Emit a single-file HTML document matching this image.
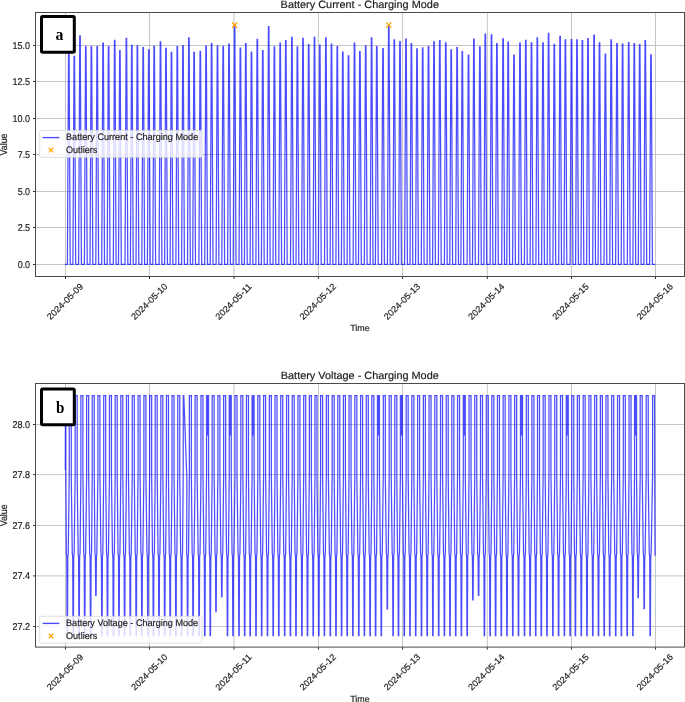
<!DOCTYPE html>
<html><head><meta charset="utf-8"><style>
html,body{margin:0;padding:0;background:#fff;width:685px;height:702px;overflow:hidden}
svg{display:block;will-change:transform}
.t{font-family:"Liberation Sans",sans-serif;font-size:8.9px;fill:#1c1c1c;stroke:#1c1c1c;stroke-width:0.18px;text-rendering:geometricPrecision}
.s{font-family:"Liberation Serif",serif;font-weight:bold;font-size:17.5px;fill:#000}
</style></head><body>
<svg width="685" height="702" viewBox="0 0 685 702">
<rect width="685" height="702" fill="#fff"/>
<line x1="65.5" y1="12.5" x2="65.5" y2="276.5" stroke="#c6c6c6" stroke-width="1"/>
<line x1="149.5" y1="12.5" x2="149.5" y2="276.5" stroke="#c6c6c6" stroke-width="1"/>
<line x1="234" y1="12.5" x2="234" y2="276.5" stroke="#c6c6c6" stroke-width="1"/>
<line x1="318.4" y1="12.5" x2="318.4" y2="276.5" stroke="#c6c6c6" stroke-width="1"/>
<line x1="402.6" y1="12.5" x2="402.6" y2="276.5" stroke="#c6c6c6" stroke-width="1"/>
<line x1="487.3" y1="12.5" x2="487.3" y2="276.5" stroke="#c6c6c6" stroke-width="1"/>
<line x1="571.5" y1="12.5" x2="571.5" y2="276.5" stroke="#c6c6c6" stroke-width="1"/>
<line x1="655.5" y1="12.5" x2="655.5" y2="276.5" stroke="#c6c6c6" stroke-width="1"/>
<line x1="35.5" y1="264.5" x2="684.5" y2="264.5" stroke="#c6c6c6" stroke-width="1"/>
<line x1="35.5" y1="227.5" x2="684.5" y2="227.5" stroke="#c6c6c6" stroke-width="1"/>
<line x1="35.5" y1="191.5" x2="684.5" y2="191.5" stroke="#c6c6c6" stroke-width="1"/>
<line x1="35.5" y1="154.5" x2="684.5" y2="154.5" stroke="#c6c6c6" stroke-width="1"/>
<line x1="35.5" y1="118.5" x2="684.5" y2="118.5" stroke="#c6c6c6" stroke-width="1"/>
<line x1="35.5" y1="81.5" x2="684.5" y2="81.5" stroke="#c6c6c6" stroke-width="1"/>
<line x1="35.5" y1="45.5" x2="684.5" y2="45.5" stroke="#c6c6c6" stroke-width="1"/>
<path d="M64.8 264.4 L67.4 264.4 L68.55 46.6 L69.05 46.6 L70.2 264.4 L72.9 264.4 L74.05 56.4 L74.55 56.4 L75.7 264.4 L78.6 264.4 L79.75 35.9 L80.25 35.9 L81.4 264.4 L84.4 264.4 L85.55 46.6 L86.05 46.6 L87.2 264.4 L90 264.4 L91.15 46.6 L91.65 46.6 L92.8 264.4 L95.8 264.4 L96.95 46.6 L97.45 46.6 L98.6 264.4 L101.7 264.4 L102.85 43.2 L103.35 43.2 L104.5 264.4 L107.2 264.4 L108.35 46.6 L108.85 46.6 L110 264.4 L113.3 264.4 L114.45 40.3 L114.95 40.3 L116.1 264.4 L118.5 264.4 L119.65 50.5 L120.15 50.5 L121.3 264.4 L125 264.4 L126.15 38.4 L126.65 38.4 L127.8 264.4 L130.4 264.4 L131.55 45.4 L132.05 45.4 L133.2 264.4 L136 264.4 L137.15 45.9 L137.65 45.9 L138.8 264.4 L141.8 264.4 L142.95 47.6 L143.45 47.6 L144.6 264.4 L147.4 264.4 L148.55 49.8 L149.05 49.8 L150.2 264.4 L152.8 264.4 L153.95 46.4 L154.45 46.4 L155.6 264.4 L159.1 264.4 L160.25 41.8 L160.75 41.8 L161.9 264.4 L164.6 264.4 L165.75 48.3 L166.25 48.3 L167.4 264.4 L170.1 264.4 L171.25 52.4 L171.75 52.4 L172.9 264.4 L175.9 264.4 L177.05 46.6 L177.55 46.6 L178.7 264.4 L181.6 264.4 L182.75 45.7 L183.25 45.7 L184.4 264.4 L187.5 264.4 L188.65 37.8 L189.15 37.8 L190.3 264.4 L192.7 264.4 L193.85 52.4 L194.35 52.4 L195.5 264.4 L198.9 264.4 L200.05 51.3 L200.55 51.3 L201.7 264.4 L204.7 264.4 L205.85 46.1 L206.35 46.1 L207.5 264.4 L210.2 264.4 L211.35 43.7 L211.85 43.7 L213 264.4 L216.1 264.4 L217.25 45.9 L217.75 45.9 L218.9 264.4 L221.8 264.4 L222.95 46.4 L223.45 46.4 L224.6 264.4 L227.6 264.4 L228.75 44.2 L229.25 44.2 L230.4 264.4 L233.2 264.4 L234.35 25 L234.85 25 L236 264.4 L239 264.4 L240.15 48 L240.65 48 L241.8 264.4 L244.4 264.4 L245.55 43.7 L246.05 43.7 L247.2 264.4 L250.1 264.4 L251.25 52 L251.75 52 L252.9 264.4 L255.9 264.4 L257.05 39.3 L257.55 39.3 L258.7 264.4 L261.4 264.4 L262.55 50.5 L263.05 50.5 L264.2 264.4 L267.3 264.4 L268.45 26.7 L268.95 26.7 L270.1 264.4 L273 264.4 L274.15 46.9 L274.65 46.9 L275.8 264.4 L278.8 264.4 L279.95 43.2 L280.45 43.2 L281.6 264.4 L284.4 264.4 L285.55 40.6 L286.05 40.6 L287.2 264.4 L290.5 264.4 L291.65 37.4 L292.15 37.4 L293.3 264.4 L296 264.4 L297.15 46.9 L297.65 46.9 L298.8 264.4 L301.6 264.4 L302.75 38.4 L303.25 38.4 L304.4 264.4 L307.3 264.4 L308.45 44.7 L308.95 44.7 L310.1 264.4 L313.1 264.4 L314.25 37.4 L314.75 37.4 L315.9 264.4 L318.4 264.4 L319.55 45.1 L320.05 45.1 L321.2 264.4 L324.5 264.4 L325.65 37.8 L326.15 37.8 L327.3 264.4 L330.1 264.4 L331.25 44.2 L331.75 44.2 L332.9 264.4 L335.9 264.4 L337.05 46.6 L337.55 46.6 L338.7 264.4 L341.4 264.4 L342.55 52 L343.05 52 L344.2 264.4 L347.1 264.4 L348.25 55.9 L348.75 55.9 L349.9 264.4 L353.1 264.4 L354.25 43.2 L354.75 43.2 L355.9 264.4 L358.5 264.4 L359.65 51.6 L360.15 51.6 L361.3 264.4 L364.3 264.4 L365.45 45.9 L365.95 45.9 L367.1 264.4 L370.2 264.4 L371.35 37.8 L371.85 37.8 L373 264.4 L375.4 264.4 L376.55 46.6 L377.05 46.6 L378.2 264.4 L381.6 264.4 L382.75 48.6 L383.25 48.6 L384.4 264.4 L387.4 264.4 L388.55 25 L389.05 25 L390.2 264.4 L392.9 264.4 L394.05 39.9 L394.55 39.9 L395.7 264.4 L398.6 264.4 L399.75 41.5 L400.25 41.5 L401.4 264.4 L404.6 264.4 L405.75 39.1 L406.25 39.1 L407.4 264.4 L410 264.4 L411.15 43.7 L411.65 43.7 L412.8 264.4 L415.6 264.4 L416.75 48.8 L417.25 48.8 L418.4 264.4 L421.3 264.4 L422.45 47.9 L422.95 47.9 L424.1 264.4 L427.1 264.4 L428.25 46.6 L428.75 46.6 L429.9 264.4 L432.6 264.4 L433.75 41.8 L434.25 41.8 L435.4 264.4 L438.4 264.4 L439.55 40.7 L440.05 40.7 L441.2 264.4 L444.4 264.4 L445.55 42.8 L446.05 42.8 L447.2 264.4 L449.8 264.4 L450.95 49.8 L451.45 49.8 L452.6 264.4 L455.7 264.4 L456.85 47.6 L457.35 47.6 L458.5 264.4 L460.9 264.4 L462.05 51.7 L462.55 51.7 L463.7 264.4 L467.1 264.4 L468.25 55.2 L468.75 55.2 L469.9 264.4 L472.5 264.4 L473.65 39.1 L474.15 39.1 L475.3 264.4 L478.5 264.4 L479.65 46.9 L480.15 46.9 L481.3 264.4 L483.9 264.4 L485.05 34 L485.55 34 L486.7 264.4 L490.1 264.4 L491.25 34.8 L491.75 34.8 L492.9 264.4 L495.5 264.4 L496.65 43.5 L497.15 43.5 L498.3 264.4 L501.7 264.4 L502.85 38.8 L503.35 38.8 L504.5 264.4 L506.8 264.4 L507.95 42.2 L508.45 42.2 L509.6 264.4 L512.6 264.4 L513.75 55.2 L514.25 55.2 L515.4 264.4 L518.6 264.4 L519.75 43.2 L520.25 43.2 L521.4 264.4 L524.4 264.4 L525.55 40.3 L526.05 40.3 L527.2 264.4 L530.1 264.4 L531.25 42.8 L531.75 42.8 L532.9 264.4 L535.9 264.4 L537.05 37.8 L537.55 37.8 L538.7 264.4 L541.6 264.4 L542.75 42.8 L543.25 42.8 L544.4 264.4 L547.2 264.4 L548.35 33.4 L548.85 33.4 L550 264.4 L552.9 264.4 L554.05 44.4 L554.55 44.4 L555.7 264.4 L558.7 264.4 L559.85 36.4 L560.35 36.4 L561.5 264.4 L564 264.4 L565.15 39.9 L565.65 39.9 L566.8 264.4 L570.1 264.4 L571.25 39.6 L571.75 39.6 L572.9 264.4 L575.6 264.4 L576.75 39.9 L577.25 39.9 L578.4 264.4 L581 264.4 L582.15 40.6 L582.65 40.6 L583.8 264.4 L586.6 264.4 L587.75 38.6 L588.25 38.6 L589.4 264.4 L592.7 264.4 L593.85 35.2 L594.35 35.2 L595.5 264.4 L598.1 264.4 L599.25 42.9 L599.75 42.9 L600.9 264.4 L604 264.4 L605.15 54.2 L605.65 54.2 L606.8 264.4 L609.8 264.4 L610.95 39.9 L611.45 39.9 L612.6 264.4 L615.6 264.4 L616.75 43.7 L617.25 43.7 L618.4 264.4 L621.2 264.4 L622.35 44.2 L622.85 44.2 L624 264.4 L627.3 264.4 L628.45 42.5 L628.95 42.5 L630.1 264.4 L632.9 264.4 L634.05 43.5 L634.55 43.5 L635.7 264.4 L638.3 264.4 L639.45 44.6 L639.95 44.6 L641.1 264.4 L643.9 264.4 L645.05 40.6 L645.55 40.6 L646.7 264.4 L649.6 264.4 L650.75 54.9 L651.25 54.9 L652.4 264.4 L655.3 264.4" fill="none" stroke="#0000ff" stroke-opacity="0.7" stroke-width="1.25" stroke-linejoin="miter" stroke-miterlimit="2"/>
<path d="M232 22.5L237.2 27.7M232 27.7L237.2 22.5" stroke="#ffa500" stroke-width="1.3" fill="none"/>
<path d="M386.2 22.4L391.4 27.6M386.2 27.6L391.4 22.4" stroke="#ffa500" stroke-width="1.3" fill="none"/>
<rect x="35.5" y="12.5" width="649" height="264" fill="none" stroke="#4a4a4a" stroke-width="1"/>
<line x1="65.5" y1="276.5" x2="65.5" y2="279" stroke="#333333" stroke-width="1"/>
<line x1="149.5" y1="276.5" x2="149.5" y2="279" stroke="#333333" stroke-width="1"/>
<line x1="234" y1="276.5" x2="234" y2="279" stroke="#333333" stroke-width="1"/>
<line x1="318.4" y1="276.5" x2="318.4" y2="279" stroke="#333333" stroke-width="1"/>
<line x1="402.6" y1="276.5" x2="402.6" y2="279" stroke="#333333" stroke-width="1"/>
<line x1="487.3" y1="276.5" x2="487.3" y2="279" stroke="#333333" stroke-width="1"/>
<line x1="571.5" y1="276.5" x2="571.5" y2="279" stroke="#333333" stroke-width="1"/>
<line x1="655.5" y1="276.5" x2="655.5" y2="279" stroke="#333333" stroke-width="1"/>
<line x1="33" y1="264.5" x2="35.5" y2="264.5" stroke="#333333" stroke-width="1"/>
<text x="30.1" y="267.8" text-anchor="end" class="t" style="font-size:9.9px" textLength="12.4" lengthAdjust="spacingAndGlyphs">0.0</text>
<line x1="33" y1="227.5" x2="35.5" y2="227.5" stroke="#333333" stroke-width="1"/>
<text x="30.1" y="230.8" text-anchor="end" class="t" style="font-size:9.9px" textLength="12.4" lengthAdjust="spacingAndGlyphs">2.5</text>
<line x1="33" y1="191.5" x2="35.5" y2="191.5" stroke="#333333" stroke-width="1"/>
<text x="30.1" y="194.8" text-anchor="end" class="t" style="font-size:9.9px" textLength="12.4" lengthAdjust="spacingAndGlyphs">5.0</text>
<line x1="33" y1="154.5" x2="35.5" y2="154.5" stroke="#333333" stroke-width="1"/>
<text x="30.1" y="157.8" text-anchor="end" class="t" style="font-size:9.9px" textLength="12.4" lengthAdjust="spacingAndGlyphs">7.5</text>
<line x1="33" y1="118.5" x2="35.5" y2="118.5" stroke="#333333" stroke-width="1"/>
<text x="30.1" y="121.8" text-anchor="end" class="t" style="font-size:9.9px" textLength="17.6" lengthAdjust="spacingAndGlyphs">10.0</text>
<line x1="33" y1="81.5" x2="35.5" y2="81.5" stroke="#333333" stroke-width="1"/>
<text x="30.1" y="84.8" text-anchor="end" class="t" style="font-size:9.9px" textLength="17.6" lengthAdjust="spacingAndGlyphs">12.5</text>
<line x1="33" y1="45.5" x2="35.5" y2="45.5" stroke="#333333" stroke-width="1"/>
<text x="30.1" y="48.8" text-anchor="end" class="t" style="font-size:9.9px" textLength="17.6" lengthAdjust="spacingAndGlyphs">15.0</text>
<text transform="translate(64.9 301.4) rotate(-45)" text-anchor="middle" class="t" y="3.2" textLength="47" lengthAdjust="spacingAndGlyphs">2024-05-09</text>
<text transform="translate(149.16 301.4) rotate(-45)" text-anchor="middle" class="t" y="3.2" textLength="47" lengthAdjust="spacingAndGlyphs">2024-05-10</text>
<text transform="translate(233.41 301.4) rotate(-45)" text-anchor="middle" class="t" y="3.2" textLength="47" lengthAdjust="spacingAndGlyphs">2024-05-11</text>
<text transform="translate(317.67 301.4) rotate(-45)" text-anchor="middle" class="t" y="3.2" textLength="47" lengthAdjust="spacingAndGlyphs">2024-05-12</text>
<text transform="translate(401.93 301.4) rotate(-45)" text-anchor="middle" class="t" y="3.2" textLength="47" lengthAdjust="spacingAndGlyphs">2024-05-13</text>
<text transform="translate(486.19 301.4) rotate(-45)" text-anchor="middle" class="t" y="3.2" textLength="47" lengthAdjust="spacingAndGlyphs">2024-05-14</text>
<text transform="translate(570.44 301.4) rotate(-45)" text-anchor="middle" class="t" y="3.2" textLength="47" lengthAdjust="spacingAndGlyphs">2024-05-15</text>
<text transform="translate(654.7 301.4) rotate(-45)" text-anchor="middle" class="t" y="3.2" textLength="47" lengthAdjust="spacingAndGlyphs">2024-05-16</text>
<text x="359.8" y="8" text-anchor="middle" class="t" style="font-size:10.6px" textLength="158.4" lengthAdjust="spacingAndGlyphs">Battery Current - Charging Mode</text>
<text x="359.9" y="331.1" text-anchor="middle" class="t">Time</text>
<text transform="translate(7.1 144.5) rotate(-90)" text-anchor="middle" class="t" style="font-size:9.9px" textLength="22" lengthAdjust="spacingAndGlyphs">Value</text>
<rect x="39.7" y="130.5" width="162.3" height="26.8" rx="1.5" fill="#fff" fill-opacity="0.8" stroke="#d8d8d8" stroke-width="0.8"/>
<line x1="42.6" y1="137.6" x2="59.4" y2="137.6" stroke="#0000ff" stroke-opacity="0.7" stroke-width="1.4"/>
<path d="M48.7 147.8L53.3 152.4M48.7 152.4L53.3 147.8" stroke="#ffa500" stroke-width="1.3" fill="none"/>
<text x="66" y="140.3" class="t" style="font-size:9.5px" textLength="132.2" lengthAdjust="spacingAndGlyphs">Battery Current - Charging Mode</text>
<text x="66" y="152.7" class="t" style="font-size:9.5px" textLength="31.3" lengthAdjust="spacingAndGlyphs">Outliers</text>
<rect x="41.5" y="16.4" width="32.8" height="35.8" rx="1.2" fill="#fff" stroke="#000" stroke-width="3"/>
<text x="59.4" y="40.1" text-anchor="middle" class="s" textLength="7.9" lengthAdjust="spacingAndGlyphs">a</text>
<line x1="65.5" y1="383.5" x2="65.5" y2="647.1" stroke="#c6c6c6" stroke-width="1"/>
<line x1="149.5" y1="383.5" x2="149.5" y2="647.1" stroke="#c6c6c6" stroke-width="1"/>
<line x1="234" y1="383.5" x2="234" y2="647.1" stroke="#c6c6c6" stroke-width="1"/>
<line x1="318.4" y1="383.5" x2="318.4" y2="647.1" stroke="#c6c6c6" stroke-width="1"/>
<line x1="402.6" y1="383.5" x2="402.6" y2="647.1" stroke="#c6c6c6" stroke-width="1"/>
<line x1="487.3" y1="383.5" x2="487.3" y2="647.1" stroke="#c6c6c6" stroke-width="1"/>
<line x1="571.5" y1="383.5" x2="571.5" y2="647.1" stroke="#c6c6c6" stroke-width="1"/>
<line x1="655.5" y1="383.5" x2="655.5" y2="647.1" stroke="#c6c6c6" stroke-width="1"/>
<line x1="35.5" y1="626.5" x2="684.5" y2="626.5" stroke="#c6c6c6" stroke-width="1"/>
<line x1="35.5" y1="575.9" x2="684.5" y2="575.9" stroke="#c6c6c6" stroke-width="1"/>
<line x1="35.5" y1="525.5" x2="684.5" y2="525.5" stroke="#c6c6c6" stroke-width="1"/>
<line x1="35.5" y1="474.6" x2="684.5" y2="474.6" stroke="#c6c6c6" stroke-width="1"/>
<line x1="35.5" y1="424.5" x2="684.5" y2="424.5" stroke="#c6c6c6" stroke-width="1"/>
<path d="M65.3 470 L65.45 395.7 L65.85 395.7 L65.85 474.6 L66.35 553 L66.8 557.5 L67.1 635.6 L67.5 635.6 L67.8 557.5 L68.25 553 L69.25 474.6 L69.25 395.7 L71.25 395.7 L71.25 474.6 L72.25 553 L72.7 557.5 L73 635.6 L73.4 635.6 L73.7 557.5 L74.15 553 L75.15 474.6 L75.15 395.7 L77.15 395.7 L77.15 474.6 L78.15 553 L78.6 557.5 L78.9 635.6 L79.3 635.6 L79.6 557.5 L80.05 553 L80.9 474.6 L80.9 395.7 L82.9 395.7 L82.9 474.6 L83.75 553 L84.2 557.5 L84.5 635.6 L84.9 635.6 L85.2 557.5 L85.65 553 L86.65 474.6 L86.65 395.7 L88.65 395.7 L88.65 474.6 L89.65 553 L90.1 557.5 L90.4 635.6 L90.8 635.6 L91.1 557.5 L91.55 553 L92.25 474.6 L92.25 395.7 L94.25 395.7 L94.25 474.6 L94.95 553 L95.4 557.5 L95.7 595.3 L96.1 595.3 L96.4 557.5 L96.85 553 L97.9 474.6 L97.9 395.7 L99.9 395.7 L99.9 474.6 L100.95 553 L101.4 557.5 L101.7 635.6 L102.1 635.6 L102.4 557.5 L102.85 553 L103.7 474.6 L103.7 395.7 L105.7 395.7 L105.7 474.6 L106.55 553 L107 557.5 L107.3 635.6 L107.7 635.6 L108 557.5 L108.45 553 L109.45 474.6 L109.45 395.7 L111.45 395.7 L111.45 474.6 L112.45 553 L112.9 557.5 L113.2 635.6 L113.6 635.6 L113.9 557.5 L114.35 553 L115.2 474.6 L115.2 395.7 L117.2 395.7 L117.2 474.6 L118.05 553 L118.5 557.5 L118.8 635.6 L119.2 635.6 L119.5 557.5 L119.95 553 L120.8 474.6 L120.8 395.7 L122.8 395.7 L122.8 474.6 L123.65 553 L124.1 557.5 L124.4 635.6 L124.8 635.6 L125.1 557.5 L125.55 553 L126.45 474.6 L126.45 395.7 L128.45 395.7 L128.45 474.6 L129.35 553 L129.8 557.5 L130.1 635.6 L130.5 635.6 L130.8 557.5 L131.25 553 L132.25 474.6 L132.25 395.7 L134.25 395.7 L134.25 474.6 L135.25 553 L135.7 557.5 L136 635.6 L136.4 635.6 L136.7 557.5 L137.15 553 L138.05 474.6 L138.05 395.7 L140.05 395.7 L140.05 474.6 L140.95 553 L141.4 557.5 L141.7 635.6 L142.1 635.6 L142.4 557.5 L142.85 553 L143.9 474.6 L143.9 395.7 L145.9 395.7 L145.9 474.6 L146.95 553 L147.4 557.5 L147.7 635.6 L148.1 635.6 L148.4 557.5 L148.85 553 L149.65 474.6 L149.65 395.7 L151.65 395.7 L151.65 474.6 L152.45 553 L152.9 557.5 L153.2 635.6 L153.6 635.6 L153.9 557.5 L154.35 553 L155.2 474.6 L155.2 395.7 L157.2 395.7 L157.2 474.6 L158.05 553 L158.5 557.5 L158.8 635.6 L159.2 635.6 L159.5 557.5 L159.95 553 L160.85 474.6 L160.85 395.7 L162.85 395.7 L162.85 474.6 L163.75 553 L164.2 557.5 L164.5 635.6 L164.9 635.6 L165.2 557.5 L165.65 553 L166.45 474.6 L166.45 395.7 L168.45 395.7 L168.45 474.6 L169.25 553 L169.7 557.5 L170 635.6 L170.4 635.6 L170.7 557.5 L171.15 553 L172.05 474.6 L172.05 395.7 L174.05 395.7 L174.05 474.6 L174.95 553 L175.4 557.5 L175.7 635.6 L176.1 635.6 L176.4 557.5 L176.85 553 L177.75 474.6 L177.75 395.7 L179.75 395.7 L179.75 474.6 L180.65 553 L181.1 557.5 L181.4 635.6 L181.8 635.6 L182.1 557.5 L182.55 553 L183.2 474.6 L183.3 395.7 L183.8 395.7 L186.9 480 L186.65 553 L187.1 557.5 L187.4 635.6 L187.8 635.6 L188.1 557.5 L188.55 553 L189.35 474.6 L189.35 395.7 L191.35 395.7 L191.35 474.6 L192.15 553 L192.6 557.5 L192.9 635.6 L193.3 635.6 L193.6 557.5 L194.05 553 L195.1 474.6 L195.1 395.7 L197.1 395.7 L197.1 474.6 L198.15 553 L198.6 557.5 L198.9 635.6 L199.3 635.6 L199.6 557.5 L200.05 553 L200.95 474.6 L200.95 395.7 L202.95 395.7 L202.95 474.6 L203.85 553 L204.3 557.5 L204.6 635.6 L205 635.6 L205.3 557.5 L205.75 553 L206.55 474.6 L206.55 395.7 L207.2 395.7 L207.55 435.5 L207.9 395.7 L208.55 395.7 L208.55 474.6 L209.35 553 L209.8 557.5 L210.1 635.6 L210.5 635.6 L210.8 557.5 L211.25 553 L212.15 474.6 L212.15 395.7 L214.15 395.7 L214.15 474.6 L215.05 553 L215.5 557.5 L215.8 611.7 L216.2 611.7 L216.5 557.5 L216.95 553 L217.9 474.6 L217.9 395.7 L219.9 395.7 L219.9 474.6 L220.85 553 L221.3 557.5 L221.6 596.8 L222 596.8 L222.3 557.5 L222.75 553 L223.65 474.6 L223.65 395.7 L225.65 395.7 L225.65 474.6 L226.55 553 L227 557.5 L227.3 635.6 L227.7 635.6 L228 557.5 L228.45 553 L229.25 474.6 L229.25 395.7 L229.9 395.7 L230.25 435.5 L230.6 395.7 L231.25 395.7 L231.25 474.6 L232.05 553 L232.5 557.5 L232.8 635.6 L233.2 635.6 L233.5 557.5 L233.95 553 L235 474.6 L235 395.7 L237 395.7 L237 474.6 L238.05 553 L238.5 557.5 L238.8 635.6 L239.2 635.6 L239.5 557.5 L239.95 553 L240.85 474.6 L240.85 395.7 L242.85 395.7 L242.85 474.6 L243.75 553 L244.2 557.5 L244.5 635.6 L244.9 635.6 L245.2 557.5 L245.65 553 L246.45 474.6 L246.45 395.7 L248.45 395.7 L248.45 474.6 L249.25 553 L249.7 557.5 L250 635.6 L250.4 635.6 L250.7 557.5 L251.15 553 L252.1 474.6 L252.1 395.7 L252.75 395.7 L253.1 435.5 L253.45 395.7 L254.1 395.7 L254.1 474.6 L255.05 553 L255.5 557.5 L255.8 635.6 L256.2 635.6 L256.5 557.5 L256.95 553 L257.85 474.6 L257.85 395.7 L259.85 395.7 L259.85 474.6 L260.75 553 L261.2 557.5 L261.5 635.6 L261.9 635.6 L262.2 557.5 L262.65 553 L263.6 474.6 L263.6 395.7 L265.6 395.7 L265.6 474.6 L266.55 553 L267 557.5 L267.3 635.6 L267.7 635.6 L268 557.5 L268.45 553 L269.35 474.6 L269.35 395.7 L271.35 395.7 L271.35 474.6 L272.25 553 L272.7 557.5 L273 635.6 L273.4 635.6 L273.7 557.5 L274.15 553 L275 474.6 L275 395.7 L277 395.7 L277 474.6 L277.85 553 L278.3 557.5 L278.6 635.6 L279 635.6 L279.3 557.5 L279.75 553 L280.75 474.6 L280.75 395.7 L282.75 395.7 L282.75 474.6 L283.75 553 L284.2 557.5 L284.5 635.6 L284.9 635.6 L285.2 557.5 L285.65 553 L286.55 474.6 L286.55 395.7 L288.55 395.7 L288.55 474.6 L289.45 553 L289.9 557.5 L290.2 635.6 L290.6 635.6 L290.9 557.5 L291.35 553 L292.2 474.6 L292.2 395.7 L294.2 395.7 L294.2 474.6 L295.05 553 L295.5 557.5 L295.8 635.6 L296.2 635.6 L296.5 557.5 L296.95 553 L297.95 474.6 L297.95 395.7 L299.95 395.7 L299.95 474.6 L300.95 553 L301.4 557.5 L301.7 635.6 L302.1 635.6 L302.4 557.5 L302.85 553 L303.7 474.6 L303.7 395.7 L305.7 395.7 L305.7 474.6 L306.55 553 L307 557.5 L307.3 635.6 L307.7 635.6 L308 557.5 L308.45 553 L309.35 474.6 L309.35 395.7 L311.35 395.7 L311.35 474.6 L312.25 553 L312.7 557.5 L313 635.6 L313.4 635.6 L313.7 557.5 L314.15 553 L315 474.6 L315 395.7 L317 395.7 L317 474.6 L317.85 553 L318.3 557.5 L318.6 635.6 L319 635.6 L319.3 557.5 L319.75 553 L320.6 474.6 L320.6 395.7 L322.6 395.7 L322.6 474.6 L323.45 553 L323.9 557.5 L324.2 635.6 L324.6 635.6 L324.9 557.5 L325.35 553 L326.35 474.6 L326.35 395.7 L328.35 395.7 L328.35 474.6 L329.35 553 L329.8 557.5 L330.1 635.6 L330.5 635.6 L330.8 557.5 L331.25 553 L332.15 474.6 L332.15 395.7 L334.15 395.7 L334.15 474.6 L335.05 553 L335.5 557.5 L335.8 635.6 L336.2 635.6 L336.5 557.5 L336.95 553 L337.8 474.6 L337.8 395.7 L339.8 395.7 L339.8 474.6 L340.65 553 L341.1 557.5 L341.4 635.6 L341.8 635.6 L342.1 557.5 L342.55 553 L343.4 474.6 L343.4 395.7 L345.4 395.7 L345.4 474.6 L346.25 553 L346.7 557.5 L347 635.6 L347.4 635.6 L347.7 557.5 L348.15 553 L349.05 474.6 L349.05 395.7 L351.05 395.7 L351.05 474.6 L351.95 553 L352.4 557.5 L352.7 635.6 L353.1 635.6 L353.4 557.5 L353.85 553 L354.85 474.6 L354.85 395.7 L356.85 395.7 L356.85 474.6 L357.85 553 L358.3 557.5 L358.6 635.6 L359 635.6 L359.3 557.5 L359.75 553 L360.6 474.6 L360.6 395.7 L362.6 395.7 L362.6 474.6 L363.45 553 L363.9 557.5 L364.2 635.6 L364.6 635.6 L364.9 557.5 L365.35 553 L366.25 474.6 L366.25 395.7 L368.25 395.7 L368.25 474.6 L369.15 553 L369.6 557.5 L369.9 635.6 L370.3 635.6 L370.6 557.5 L371.05 553 L371.85 474.6 L371.85 395.7 L373.85 395.7 L373.85 474.6 L374.65 553 L375.1 557.5 L375.4 635.6 L375.8 635.6 L376.1 557.5 L376.55 553 L377.45 474.6 L377.45 395.7 L378.1 395.7 L378.45 435.5 L378.8 395.7 L379.45 395.7 L379.45 474.6 L380.35 553 L380.8 557.5 L381.1 635.6 L381.5 635.6 L381.8 557.5 L382.25 553 L383.3 474.6 L383.3 395.7 L385.3 395.7 L385.3 474.6 L386.35 553 L386.8 557.5 L387.1 608.8 L387.5 608.8 L387.8 557.5 L388.25 553 L389.2 474.6 L389.2 395.7 L391.2 395.7 L391.2 474.6 L392.15 553 L392.6 557.5 L392.9 635.6 L393.3 635.6 L393.6 557.5 L394.05 553 L394.8 474.6 L394.8 395.7 L396.8 395.7 L396.8 474.6 L397.55 553 L398 557.5 L398.3 635.6 L398.7 635.6 L399 557.5 L399.45 553 L400.4 474.6 L400.4 395.7 L401.05 395.7 L401.4 435.5 L401.75 395.7 L402.4 395.7 L402.4 474.6 L403.35 553 L403.8 557.5 L404.1 635.6 L404.5 635.6 L404.8 557.5 L405.25 553 L406.15 474.6 L406.15 395.7 L408.15 395.7 L408.15 474.6 L409.05 553 L409.5 557.5 L409.8 635.6 L410.2 635.6 L410.5 557.5 L410.95 553 L411.85 474.6 L411.85 395.7 L413.85 395.7 L413.85 474.6 L414.75 553 L415.2 557.5 L415.5 635.6 L415.9 635.6 L416.2 557.5 L416.65 553 L417.6 474.6 L417.6 395.7 L419.6 395.7 L419.6 474.6 L420.55 553 L421 557.5 L421.3 635.6 L421.7 635.6 L422 557.5 L422.45 553 L423.35 474.6 L423.35 395.7 L425.35 395.7 L425.35 474.6 L426.25 553 L426.7 557.5 L427 635.6 L427.4 635.6 L427.7 557.5 L428.15 553 L429.05 474.6 L429.05 395.7 L431.05 395.7 L431.05 474.6 L431.95 553 L432.4 557.5 L432.7 635.6 L433.1 635.6 L433.4 557.5 L433.85 553 L434.8 474.6 L434.8 395.7 L436.8 395.7 L436.8 474.6 L437.75 553 L438.2 557.5 L438.5 635.6 L438.9 635.6 L439.2 557.5 L439.65 553 L440.55 474.6 L440.55 395.7 L442.55 395.7 L442.55 474.6 L443.45 553 L443.9 557.5 L444.2 635.6 L444.6 635.6 L444.9 557.5 L445.35 553 L446.2 474.6 L446.2 395.7 L448.2 395.7 L448.2 474.6 L449.05 553 L449.5 557.5 L449.8 635.6 L450.2 635.6 L450.5 557.5 L450.95 553 L451.85 474.6 L451.85 395.7 L453.85 395.7 L453.85 474.6 L454.75 553 L455.2 557.5 L455.5 635.6 L455.9 635.6 L456.2 557.5 L456.65 553 L457.55 474.6 L457.55 395.7 L459.55 395.7 L459.55 474.6 L460.45 553 L460.9 557.5 L461.2 635.6 L461.6 635.6 L461.9 557.5 L462.35 553 L463.3 474.6 L463.3 395.7 L463.95 395.7 L464.3 435.5 L464.65 395.7 L465.3 395.7 L465.3 474.6 L466.25 553 L466.7 557.5 L467 635.6 L467.4 635.6 L467.7 557.5 L468.15 553 L469.05 474.6 L469.05 395.7 L471.05 395.7 L471.05 474.6 L471.95 553 L472.4 557.5 L472.7 599.8 L473.1 599.8 L473.4 557.5 L473.85 553 L474.75 474.6 L474.75 395.7 L476.75 395.7 L476.75 474.6 L477.65 553 L478.1 557.5 L478.4 595.3 L478.8 595.3 L479.1 557.5 L479.55 553 L480.5 474.6 L480.5 395.7 L482.5 395.7 L482.5 474.6 L483.45 553 L483.9 557.5 L484.2 635.6 L484.6 635.6 L484.9 557.5 L485.35 553 L486.25 474.6 L486.25 395.7 L488.25 395.7 L488.25 474.6 L489.15 553 L489.6 557.5 L489.9 635.6 L490.3 635.6 L490.6 557.5 L491.05 553 L491.85 474.6 L491.85 395.7 L493.85 395.7 L493.85 474.6 L494.65 553 L495.1 557.5 L495.4 635.6 L495.8 635.6 L496.1 557.5 L496.55 553 L497.45 474.6 L497.45 395.7 L499.45 395.7 L499.45 474.6 L500.35 553 L500.8 557.5 L501.1 635.6 L501.5 635.6 L501.8 557.5 L502.25 553 L503.15 474.6 L503.15 395.7 L505.15 395.7 L505.15 474.6 L506.05 553 L506.5 557.5 L506.8 635.6 L507.2 635.6 L507.5 557.5 L507.95 553 L508.9 474.6 L508.9 395.7 L510.9 395.7 L510.9 474.6 L511.85 553 L512.3 557.5 L512.6 635.6 L513 635.6 L513.3 557.5 L513.75 553 L514.65 474.6 L514.65 395.7 L516.65 395.7 L516.65 474.6 L517.55 553 L518 557.5 L518.3 635.6 L518.7 635.6 L519 557.5 L519.45 553 L520.5 474.6 L520.5 395.7 L521.15 395.7 L521.5 435.5 L521.85 395.7 L522.5 395.7 L522.5 474.6 L523.55 553 L524 557.5 L524.3 635.6 L524.7 635.6 L525 557.5 L525.45 553 L526.3 474.6 L526.3 395.7 L528.3 395.7 L528.3 474.6 L529.15 553 L529.6 557.5 L529.9 635.6 L530.3 635.6 L530.6 557.5 L531.05 553 L531.9 474.6 L531.9 395.7 L533.9 395.7 L533.9 474.6 L534.75 553 L535.2 557.5 L535.5 635.6 L535.9 635.6 L536.2 557.5 L536.65 553 L537.5 474.6 L537.5 395.7 L539.5 395.7 L539.5 474.6 L540.35 553 L540.8 557.5 L541.1 635.6 L541.5 635.6 L541.8 557.5 L542.25 553 L543.15 474.6 L543.15 395.7 L545.15 395.7 L545.15 474.6 L546.05 553 L546.5 557.5 L546.8 635.6 L547.2 635.6 L547.5 557.5 L547.95 553 L548.95 474.6 L548.95 395.7 L550.95 395.7 L550.95 474.6 L551.95 553 L552.4 557.5 L552.7 635.6 L553.1 635.6 L553.4 557.5 L553.85 553 L554.75 474.6 L554.75 395.7 L556.75 395.7 L556.75 474.6 L557.65 553 L558.1 557.5 L558.4 635.6 L558.8 635.6 L559.1 557.5 L559.55 553 L560.5 474.6 L560.5 395.7 L562.5 395.7 L562.5 474.6 L563.45 553 L563.9 557.5 L564.2 635.6 L564.6 635.6 L564.9 557.5 L565.35 553 L566.25 474.6 L566.25 395.7 L566.9 395.7 L567.25 435.5 L567.6 395.7 L568.25 395.7 L568.25 474.6 L569.15 553 L569.6 557.5 L569.9 635.6 L570.3 635.6 L570.6 557.5 L571.05 553 L571.75 474.6 L571.75 395.7 L573.75 395.7 L573.75 474.6 L574.45 553 L574.9 557.5 L575.2 635.6 L575.6 635.6 L575.9 557.5 L576.35 553 L577.35 474.6 L577.35 395.7 L579.35 395.7 L579.35 474.6 L580.35 553 L580.8 557.5 L581.1 635.6 L581.5 635.6 L581.8 557.5 L582.25 553 L583.15 474.6 L583.15 395.7 L585.15 395.7 L585.15 474.6 L586.05 553 L586.5 557.5 L586.8 635.6 L587.2 635.6 L587.5 557.5 L587.95 553 L588.9 474.6 L588.9 395.7 L590.9 395.7 L590.9 474.6 L591.85 553 L592.3 557.5 L592.6 635.6 L593 635.6 L593.3 557.5 L593.75 553 L594.65 474.6 L594.65 395.7 L596.65 395.7 L596.65 474.6 L597.55 553 L598 557.5 L598.3 635.6 L598.7 635.6 L599 557.5 L599.45 553 L600.35 474.6 L600.35 395.7 L602.35 395.7 L602.35 474.6 L603.25 553 L603.7 557.5 L604 635.6 L604.4 635.6 L604.7 557.5 L605.15 553 L605.95 474.6 L605.95 395.7 L607.95 395.7 L607.95 474.6 L608.75 553 L609.2 557.5 L609.5 635.6 L609.9 635.6 L610.2 557.5 L610.65 553 L611.7 474.6 L611.7 395.7 L613.7 395.7 L613.7 474.6 L614.75 553 L615.2 557.5 L615.5 635.6 L615.9 635.6 L616.2 557.5 L616.65 553 L617.55 474.6 L617.55 395.7 L619.55 395.7 L619.55 474.6 L620.45 553 L620.9 557.5 L621.2 635.6 L621.6 635.6 L621.9 557.5 L622.35 553 L623.3 474.6 L623.3 395.7 L625.3 395.7 L625.3 474.6 L626.25 553 L626.7 557.5 L627 635.6 L627.4 635.6 L627.7 557.5 L628.15 553 L629.05 474.6 L629.05 395.7 L631.05 395.7 L631.05 474.6 L631.95 553 L632.4 557.5 L632.7 635.6 L633.1 635.6 L633.4 557.5 L633.85 553 L634.55 474.6 L634.55 395.7 L635.2 395.7 L635.55 435.5 L635.9 395.7 L636.55 395.7 L636.55 474.6 L637.25 553 L637.7 557.5 L638 597.6 L638.4 597.6 L638.7 557.5 L639.15 553 L640.2 474.6 L640.2 395.7 L642.2 395.7 L642.2 474.6 L643.25 553 L643.7 557.5 L644 608.6 L644.4 608.6 L644.7 557.5 L645.15 553 L646.2 474.6 L646.2 395.7 L648.2 395.7 L648.2 474.6 L649.25 553 L649.7 557.5 L650 635.6 L650.4 635.6 L650.7 557.5 L651.15 553 L652.6 474.6 L652.6 395.7 L654.5 395.7 L655 555.77" fill="none" stroke="#0000ff" stroke-opacity="0.7" stroke-width="1.25" stroke-linejoin="miter" stroke-miterlimit="2"/>
<rect x="35.5" y="383.5" width="649" height="263.6" fill="none" stroke="#4a4a4a" stroke-width="1"/>
<line x1="65.5" y1="647.1" x2="65.5" y2="649.6" stroke="#333333" stroke-width="1"/>
<line x1="149.5" y1="647.1" x2="149.5" y2="649.6" stroke="#333333" stroke-width="1"/>
<line x1="234" y1="647.1" x2="234" y2="649.6" stroke="#333333" stroke-width="1"/>
<line x1="318.4" y1="647.1" x2="318.4" y2="649.6" stroke="#333333" stroke-width="1"/>
<line x1="402.6" y1="647.1" x2="402.6" y2="649.6" stroke="#333333" stroke-width="1"/>
<line x1="487.3" y1="647.1" x2="487.3" y2="649.6" stroke="#333333" stroke-width="1"/>
<line x1="571.5" y1="647.1" x2="571.5" y2="649.6" stroke="#333333" stroke-width="1"/>
<line x1="655.5" y1="647.1" x2="655.5" y2="649.6" stroke="#333333" stroke-width="1"/>
<line x1="33" y1="626.5" x2="35.5" y2="626.5" stroke="#333333" stroke-width="1"/>
<text x="30.1" y="629.8" text-anchor="end" class="t" style="font-size:9.9px" textLength="17.6" lengthAdjust="spacingAndGlyphs">27.2</text>
<line x1="33" y1="575.9" x2="35.5" y2="575.9" stroke="#333333" stroke-width="1"/>
<text x="30.1" y="579.2" text-anchor="end" class="t" style="font-size:9.9px" textLength="17.6" lengthAdjust="spacingAndGlyphs">27.4</text>
<line x1="33" y1="525.5" x2="35.5" y2="525.5" stroke="#333333" stroke-width="1"/>
<text x="30.1" y="528.8" text-anchor="end" class="t" style="font-size:9.9px" textLength="17.6" lengthAdjust="spacingAndGlyphs">27.6</text>
<line x1="33" y1="474.6" x2="35.5" y2="474.6" stroke="#333333" stroke-width="1"/>
<text x="30.1" y="477.9" text-anchor="end" class="t" style="font-size:9.9px" textLength="17.6" lengthAdjust="spacingAndGlyphs">27.8</text>
<line x1="33" y1="424.5" x2="35.5" y2="424.5" stroke="#333333" stroke-width="1"/>
<text x="30.1" y="427.8" text-anchor="end" class="t" style="font-size:9.9px" textLength="17.6" lengthAdjust="spacingAndGlyphs">28.0</text>
<text transform="translate(64.9 672) rotate(-45)" text-anchor="middle" class="t" y="3.2" textLength="47" lengthAdjust="spacingAndGlyphs">2024-05-09</text>
<text transform="translate(149.16 672) rotate(-45)" text-anchor="middle" class="t" y="3.2" textLength="47" lengthAdjust="spacingAndGlyphs">2024-05-10</text>
<text transform="translate(233.41 672) rotate(-45)" text-anchor="middle" class="t" y="3.2" textLength="47" lengthAdjust="spacingAndGlyphs">2024-05-11</text>
<text transform="translate(317.67 672) rotate(-45)" text-anchor="middle" class="t" y="3.2" textLength="47" lengthAdjust="spacingAndGlyphs">2024-05-12</text>
<text transform="translate(401.93 672) rotate(-45)" text-anchor="middle" class="t" y="3.2" textLength="47" lengthAdjust="spacingAndGlyphs">2024-05-13</text>
<text transform="translate(486.19 672) rotate(-45)" text-anchor="middle" class="t" y="3.2" textLength="47" lengthAdjust="spacingAndGlyphs">2024-05-14</text>
<text transform="translate(570.44 672) rotate(-45)" text-anchor="middle" class="t" y="3.2" textLength="47" lengthAdjust="spacingAndGlyphs">2024-05-15</text>
<text transform="translate(654.7 672) rotate(-45)" text-anchor="middle" class="t" y="3.2" textLength="47" lengthAdjust="spacingAndGlyphs">2024-05-16</text>
<text x="359.8" y="378.8" text-anchor="middle" class="t" style="font-size:10.6px" textLength="158" lengthAdjust="spacingAndGlyphs">Battery Voltage - Charging Mode</text>
<text x="359.9" y="701.7" text-anchor="middle" class="t">Time</text>
<text transform="translate(7.1 515.3) rotate(-90)" text-anchor="middle" class="t" style="font-size:9.9px" textLength="22" lengthAdjust="spacingAndGlyphs">Value</text>
<rect x="39.7" y="616.3" width="162.3" height="26.8" rx="1.5" fill="#fff" fill-opacity="0.8" stroke="#d8d8d8" stroke-width="0.8"/>
<line x1="42.6" y1="623.4" x2="59.4" y2="623.4" stroke="#0000ff" stroke-opacity="0.7" stroke-width="1.4"/>
<path d="M48.7 633.6L53.3 638.2M48.7 638.2L53.3 633.6" stroke="#ffa500" stroke-width="1.3" fill="none"/>
<text x="66" y="626.1" class="t" style="font-size:9.5px" textLength="132.2" lengthAdjust="spacingAndGlyphs">Battery Voltage - Charging Mode</text>
<text x="66" y="638.5" class="t" style="font-size:9.5px" textLength="31.3" lengthAdjust="spacingAndGlyphs">Outliers</text>
<rect x="41.5" y="389" width="32.8" height="35.8" rx="1.2" fill="#fff" stroke="#000" stroke-width="3"/>
<text x="60.2" y="412.7" text-anchor="middle" class="s" textLength="8.4" lengthAdjust="spacingAndGlyphs">b</text>
</svg>
</body></html>
